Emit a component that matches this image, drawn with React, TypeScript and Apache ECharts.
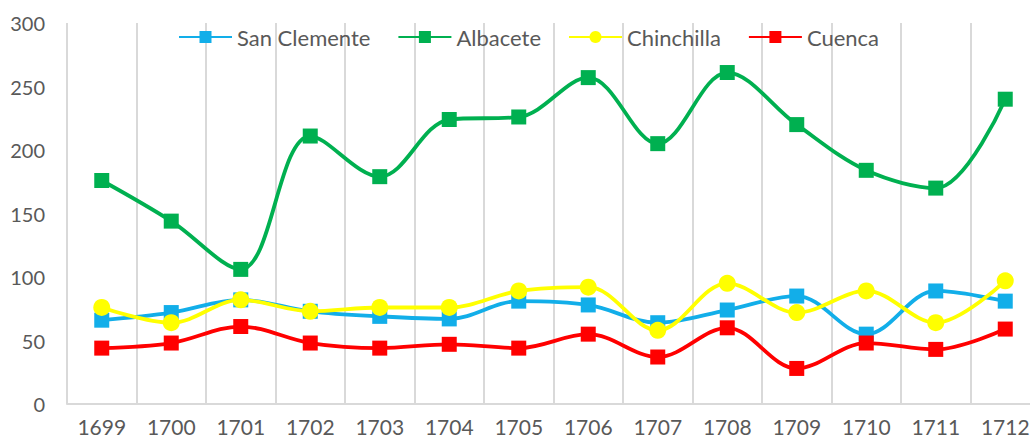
import React, { useEffect, useRef } from "react";
import * as echarts from "echarts";

const years = ["1699", "1700", "1701", "1702", "1703", "1704", "1705", "1706", "1707", "1708", "1709", "1710", "1711", "1712"];
const sanClemente = [66, 72, 82, 73, 69, 67, 81, 78, 64, 74, 85, 55, 89, 81];
const albacete = [176, 144, 106, 211, 179, 224, 226, 257, 205, 261, 220, 184, 170, 240];
const chinchilla = [76, 64, 82, 73, 76, 76, 89, 92, 58, 95, 72, 89, 64, 97];
const cuenca = [44, 48, 61, 48, 44, 47, 44, 55, 37, 60, 28, 48, 43, 59];

const FONT = "Lato, 'Open Sans', sans-serif";

export default function App() {
  const ref = useRef<HTMLDivElement>(null);
  useEffect(() => {
    if (!ref.current) return;
    const chart = echarts.init(ref.current, null, { renderer: "svg" });
    const mk = (name: string, data: number[], color: string, symbol: string, size: number) => ({
      name,
      type: "line",
      data,
      smooth: 0.35,
      symbol,
      symbolSize: size,
      showSymbol: true,
      lineStyle: { color, width: 3.8 },
      itemStyle: { color },
      emphasis: { disabled: true },
    });
    chart.setOption({
      animation: false,
      backgroundColor: "#ffffff",
      grid: { left: 67, width: 973, top: 23, bottom: 36, containLabel: false },
      legend: {
        top: 26,
        left: 178,
        padding: 0,
        itemWidth: 53,
        itemHeight: 15,
        itemGap: 27,
        textStyle: { fontFamily: FONT, fontSize: 22, color: "#595959" },
        data: ["San Clemente", "Albacete", "Chinchilla", "Cuenca"],
      },
      xAxis: {
        type: "category",
        data: years,
        boundaryGap: true,
        axisLine: { show: true, lineStyle: { color: "#d9d9d9", width: 2 } },
        axisTick: { show: false },
        axisLabel: { fontFamily: FONT, fontSize: 21, color: "#595959", margin: 12, interval: 0 },
        splitLine: { show: true, interval: 0, lineStyle: { color: "#d9d9d9", width: 2 } },
      },
      yAxis: {
        type: "value",
        min: 0,
        max: 300,
        interval: 50,
        axisLine: { show: false },
        axisTick: { show: false },
        splitLine: { show: false },
        axisLabel: { fontFamily: FONT, fontSize: 20, color: "#595959", margin: 22 },
      },
      series: [
        mk("San Clemente", sanClemente, "#12aee9", "rect", 15),
        mk("Albacete", albacete, "#00b050", "rect", 15),
        mk("Chinchilla", chinchilla, "#ffff00", "circle", 17),
        mk("Cuenca", cuenca, "#ff0000", "rect", 15),
      ],
    });
    return () => chart.dispose();
  }, []);
  return (
    <div style={{ width: 1030, height: 440, position: "absolute", left: 0, top: 0, overflow: "hidden", background: "#fff" }}>
      <div ref={ref} style={{ width: 1050, height: 440 }} />
    </div>
  );
}
